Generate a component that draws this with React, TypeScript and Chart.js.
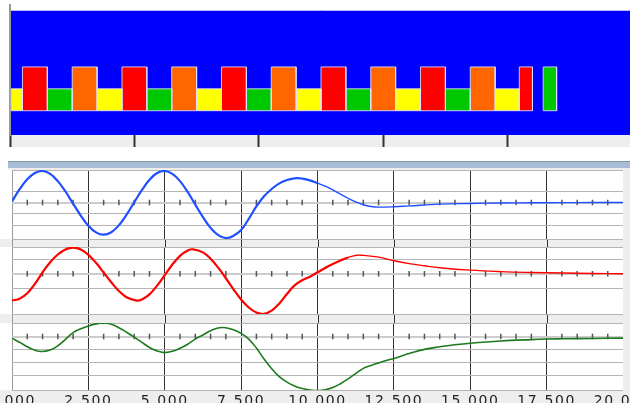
import React, { useEffect, useRef } from 'react';
import { Chart, registerables } from 'chart.js';

Chart.register(...registerables);
Chart.defaults.font.family = "'DejaVu Sans', sans-serif";

// ---------- Top timeline (blocks) ----------
const blockStart = [0.05, 0.5, 1.5, 2.5, 3.5, 4.5, 5.5, 6.5, 7.5, 8.5, 9.5, 10.5, 11.5, 12.5, 13.5, 14.5, 15.5, 16.5, 17.5, 18.5, 19.5, 20.47, 21.43];
const blockEnd = [0.5, 1.5, 2.5, 3.5, 4.5, 5.5, 6.5, 7.5, 8.5, 9.5, 10.5, 11.5, 12.5, 13.5, 14.5, 15.5, 16.5, 17.5, 18.5, 19.5, 20.47, 21.0, 21.97];
const blockKind = ['Y', 'R', 'G', 'O', 'Y', 'R', 'G', 'O', 'Y', 'R', 'G', 'O', 'Y', 'R', 'G', 'O', 'Y', 'R', 'G', 'O', 'Y', 'R', 'G'];
const blockTop = [1, 2, 1, 2, 1, 2, 1, 2, 1, 2, 1, 2, 1, 2, 1, 2, 1, 2, 1, 2, 1, 2, 2];
const kindColor: Record<string, string> = { Y: '#ffff00', R: '#ff0000', G: '#00c800', O: '#ff6600' };

// ---------- Signal panels ----------
const blueX = [0, 0.25, 0.5, 0.75, 1, 1.25, 1.5, 1.75, 2, 2.25, 2.5, 2.75, 3, 3.25, 3.5, 3.75, 4, 4.25, 4.5, 4.75, 5, 5.25, 5.5, 5.75, 6, 6.25, 6.5, 6.75, 7.02, 7.25, 7.5, 7.75, 8, 8.25, 8.5, 8.75, 9, 9.3, 9.5, 9.75, 10, 10.25, 10.5, 10.75, 11, 11.25, 11.5, 11.75, 12, 12.5, 13, 14, 15, 16, 17, 18, 19, 20];
const blueY = [0.1, 1.19, 2.07, 2.63, 2.8, 2.54, 1.9, 0.98, -0.1, -1.16, -2.06, -2.65, -2.86, -2.64, -2.02, -1.08, 0.02, 1.1, 2.02, 2.62, 2.8, 2.55, 1.9, 0.94, -0.18, -1.29, -2.25, -2.9, -3.15, -2.95, -2.45, -1.45, -0.35, 0.55, 1.2, 1.7, 2.0, 2.16, 2.12, 1.97, 1.72, 1.45, 1.12, 0.75, 0.38, 0.05, -0.2, -0.35, -0.41, -0.38, -0.3, -0.14, -0.08, -0.04, -0.02, -0.01, 0, 0];

const redX = [0, 0.25, 0.5, 0.75, 1, 1.25, 1.5, 1.75, 2, 2.25, 2.5, 2.75, 3, 3.25, 3.5, 3.75, 4.08, 4.25, 4.5, 4.75, 5, 5.25, 5.5, 5.75, 5.93, 6.25, 6.5, 6.75, 7, 7.25, 7.5, 7.75, 8, 8.22, 8.5, 8.75, 9, 9.25, 9.5, 9.75, 10, 10.25, 10.5, 10.75, 11, 11.28, 11.5, 12, 12.5, 13, 13.5, 14, 15, 16, 17, 18, 19, 20];
const redY = [-1.85, -1.72, -1.35, -0.7, 0.1, 0.8, 1.33, 1.68, 1.81, 1.68, 1.31, 0.76, 0.09, -0.59, -1.19, -1.62, -1.85, -1.78, -1.42, -0.82, -0.1, 0.64, 1.24, 1.61, 1.69, 1.48, 1.04, 0.42, -0.31, -1.08, -1.78, -2.33, -2.68, -2.78, -2.55, -2.05, -1.4, -0.8, -0.45, -0.2, 0.1, 0.4, 0.68, 0.92, 1.12, 1.28, 1.27, 1.15, 0.9, 0.7, 0.55, 0.42, 0.25, 0.15, 0.09, 0.05, 0.02, 0];

const greenX = [0, 0.25, 0.5, 0.75, 0.97, 1.25, 1.5, 1.75, 2, 2.25, 2.5, 2.75, 3, 3.25, 3.5, 3.75, 4, 4.25, 4.5, 4.75, 4.98, 5.25, 5.5, 5.75, 6, 6.25, 6.5, 6.75, 6.86, 7, 7.25, 7.5, 7.75, 8, 8.25, 8.5, 8.75, 9, 9.25, 9.5, 9.75, 10.02, 10.25, 10.5, 10.75, 11, 11.25, 11.5, 11.75, 12, 12.25, 12.5, 13, 13.5, 14, 14.5, 15, 16, 17, 17.5, 18, 19, 20];
const greenY = [-0.13, -0.45, -0.8, -1.07, -1.17, -1.05, -0.72, -0.22, 0.3, 0.6, 0.82, 0.98, 1.05, 0.95, 0.68, 0.33, -0.05, -0.45, -0.85, -1.13, -1.25, -1.15, -0.92, -0.6, -0.2, 0.12, 0.45, 0.66, 0.7, 0.68, 0.52, 0.24, -0.2, -0.9, -1.75, -2.5, -3.12, -3.55, -3.85, -4.05, -4.16, -4.2, -4.15, -3.97, -3.67, -3.3, -2.88, -2.48, -2.25, -2.05, -1.86, -1.71, -1.33, -1.0, -0.8, -0.64, -0.52, -0.35, -0.24, -0.2, -0.18, -0.15, -0.13];

const minorTickX = [0.5, 1, 1.5, 2, 3, 3.5, 4, 4.5, 5.5, 6, 6.5, 7, 8, 8.5, 9, 9.5, 10.5, 11, 11.5, 12, 13, 13.5, 14, 14.5, 15.5, 16, 16.5, 17, 18, 18.5, 19, 19.5];
const xTickLabels = ['0.000', '2.500', '5.000', '7.500', '10.000', '12.500', '15.000', '17.500', '20.000'];

const majorColor = (v: number) => (v === 0 ? '#9a9a9a' : v === 20 ? 'rgba(0,0,0,0)' : '#333333');

const topBg = {
  id: 'topBg',
  beforeDraw(chart: any) {
    const { ctx, chartArea: a } = chart;
    ctx.save();
    ctx.fillStyle = '#eeeeee';
    ctx.fillRect(a.left - 1, a.bottom, chart.width - a.left + 1, 12);
    ctx.fillStyle = '#0000ff';
    ctx.fillRect(a.left + 1, a.top + 5, a.right - a.left, a.bottom - a.top - 5);
    ctx.strokeStyle = 'rgba(205,205,255,0.9)';
    ctx.lineWidth = 1;
    ctx.beginPath();
    ctx.moveTo(a.left + 1, a.top + 5.5);
    ctx.lineTo(a.right, a.top + 5.5);
    ctx.stroke();
    ctx.restore();
  },
};

function makePanelBg(gapLines: boolean) {
  return {
    id: 'panelBg',
    beforeDraw(chart: any) {
      const { ctx, chartArea: a } = chart;
      ctx.save();
      ctx.fillStyle = '#eeeeee';
      ctx.fillRect(0, 0, chart.width, chart.height);
      ctx.fillStyle = '#ffffff';
      ctx.fillRect(0, a.top, a.right, a.bottom - a.top);
      if (gapLines) {
        const xs = chart.scales.x;
        ctx.lineWidth = 1;
        xs.ticks.forEach((t: any) => {
          const px = Math.round(xs.getPixelForValue(t.value)) + 0.5;
          ctx.strokeStyle = majorColor(t.value);
          ctx.beginPath();
          ctx.moveTo(px, a.bottom);
          ctx.lineTo(px, chart.height);
          ctx.stroke();
        });
      }
      ctx.restore();
      ctx.letterSpacing = '1.6px';
    },
    afterDraw(chart: any) {
      chart.ctx.letterSpacing = '0px';
    },
  };
}

function topConfig(): any {
  const datasets = blockStart.map((s, i) => {
    const e = blockEnd[i];
    const t = blockTop[i];
    return {
      data: [
        { x: s, y: 0 },
        { x: s, y: t },
        { x: e, y: t },
        { x: e, y: 0 },
        { x: s, y: 0 },
      ],
      fill: 'shape',
      backgroundColor: kindColor[blockKind[i]],
      borderColor: 'rgba(225,225,255,0.85)',
      borderWidth: 1,
      pointRadius: 0,
      tension: 0,
    };
  });
  return {
    type: 'line',
    data: { datasets },
    options: {
      animation: false,
      responsive: false,
      maintainAspectRatio: false,
      layout: { autoPadding: false, padding: { left: 10, right: 8, top: 5, bottom: 3 } },
      plugins: { legend: { display: false }, tooltip: { enabled: false } },
      scales: {
        x: {
          type: 'linear', min: 0, max: 25, position: 'bottom',
          ticks: { display: false, stepSize: 5 },
          grid: { display: true, drawOnChartArea: false, drawTicks: true, tickLength: 12, tickColor: '#333333', tickWidth: 2 },
          border: { display: false },
        },
        y: {
          type: 'linear', min: -1.11, max: 4.83,
          ticks: { display: false },
          grid: { display: true, drawOnChartArea: false, drawTicks: false },
          border: { display: true, color: '#9a9a9a', width: 2 },
        },
      },
    },
    plugins: [topBg],
  };
}

function panelConfig(xs: number[], ys: number[], color: string, yMin: number, yMax: number, showLabels: boolean, split: number, w1: number, w2: number, gapBottom: number): any {
  return {
    type: 'line',
    data: {
      datasets: [
        {
          data: xs.map((x, i) => ({ x, y: ys[i] })),
          borderColor: color,
          borderWidth: w1,
          pointRadius: 0,
          tension: 0.4,
          fill: false,
          segment: { borderWidth: (c: any) => (c.p0.parsed.x < split ? w1 : w2) },
        },
        {
          data: minorTickX.map((x) => ({ x, y: 0 })),
          showLine: false,
          pointStyle: 'line',
          pointRotation: 90,
          pointRadius: 2.8,
          pointBorderColor: '#555555',
          pointBorderWidth: 1.5,
          borderColor: '#555555',
        },
      ],
    },
    options: {
      animation: false,
      responsive: false,
      maintainAspectRatio: false,
      layout: { autoPadding: false, padding: { left: 12, right: 7, top: 0, bottom: gapBottom } },
      plugins: { legend: { display: false }, tooltip: { enabled: false } },
      scales: {
        x: {
          type: 'linear', min: 0, max: 20,
          ticks: {
            display: showLabels, stepSize: 2.5, autoSkip: false, maxRotation: 0,
            callback: (_v: any, i: number) => xTickLabels[i],
            font: { size: 14 }, color: '#222222', padding: 3,
          },
          grid: {
            drawTicks: false,
            color: (c: any) => (c.tick ? majorColor(c.tick.value) : '#333333'),
            lineWidth: 1,
          },
          border: { display: false },
          afterFit: (s: any) => {
            s.paddingLeft = 0;
            s.paddingRight = 0;
            if (showLabels) s.height = 23;
          },
        },
        y: {
          type: 'linear', min: yMin, max: yMax,
          ticks: { display: false, stepSize: 1 },
          grid: {
            drawTicks: false,
            color: (c: any) => (c.tick && c.tick.value === 0 ? '#cccccc' : '#b4b4b4'),
            lineWidth: (c: any) => (c.tick && c.tick.value === 0 ? 2 : 1),
          },
          border: { display: false },
        },
      },
    },
    plugins: [makePanelBg(!showLabels)],
  };
}

function ChartCanvas({ make, left, top, width, height }: { make: () => any; left: number; top: number; width: number; height: number }) {
  const ref = useRef<HTMLCanvasElement>(null);
  useEffect(() => {
    const chart = new Chart(ref.current as HTMLCanvasElement, make());
    return () => chart.destroy();
  }, []);
  return (
    <canvas
      ref={ref}
      width={width}
      height={height}
      style={{ position: 'absolute', left, top, width, height, display: 'block' }}
    />
  );
}

export default function App() {
  return (
    <div style={{ position: 'fixed', left: 0, top: 0, width: 630, height: 403, overflow: 'hidden', background: '#ffffff' }}>
      <ChartCanvas make={topConfig} left={0} top={0} width={640} height={150} />
      <div style={{ position: 'absolute', left: 8, top: 161, width: 622, height: 6, background: '#a8bcd5', borderTop: '1px solid #8296ae' }} />
      <div style={{ position: 'absolute', left: 8, top: 168, width: 622, height: 235, background: '#eeeeee' }} />
      <ChartCanvas make={() => panelConfig(blueX, blueY, '#1f4fff', -3.24, 2.89, false, 10, 2.2, 1.4, 8)} left={0} top={170} width={630} height={77} />
      <ChartCanvas make={() => panelConfig(redX, redY, '#ff0000', -2.78, 1.85, false, 11, 2.2, 1.4, 9)} left={0} top={247} width={630} height={76} />
      <ChartCanvas make={() => panelConfig(greenX, greenY, '#1e7a1e', -4.16, 1.05, true, 30, 1.6, 1.6, 0)} left={0} top={323} width={630} height={90} />
    </div>
  );
}
